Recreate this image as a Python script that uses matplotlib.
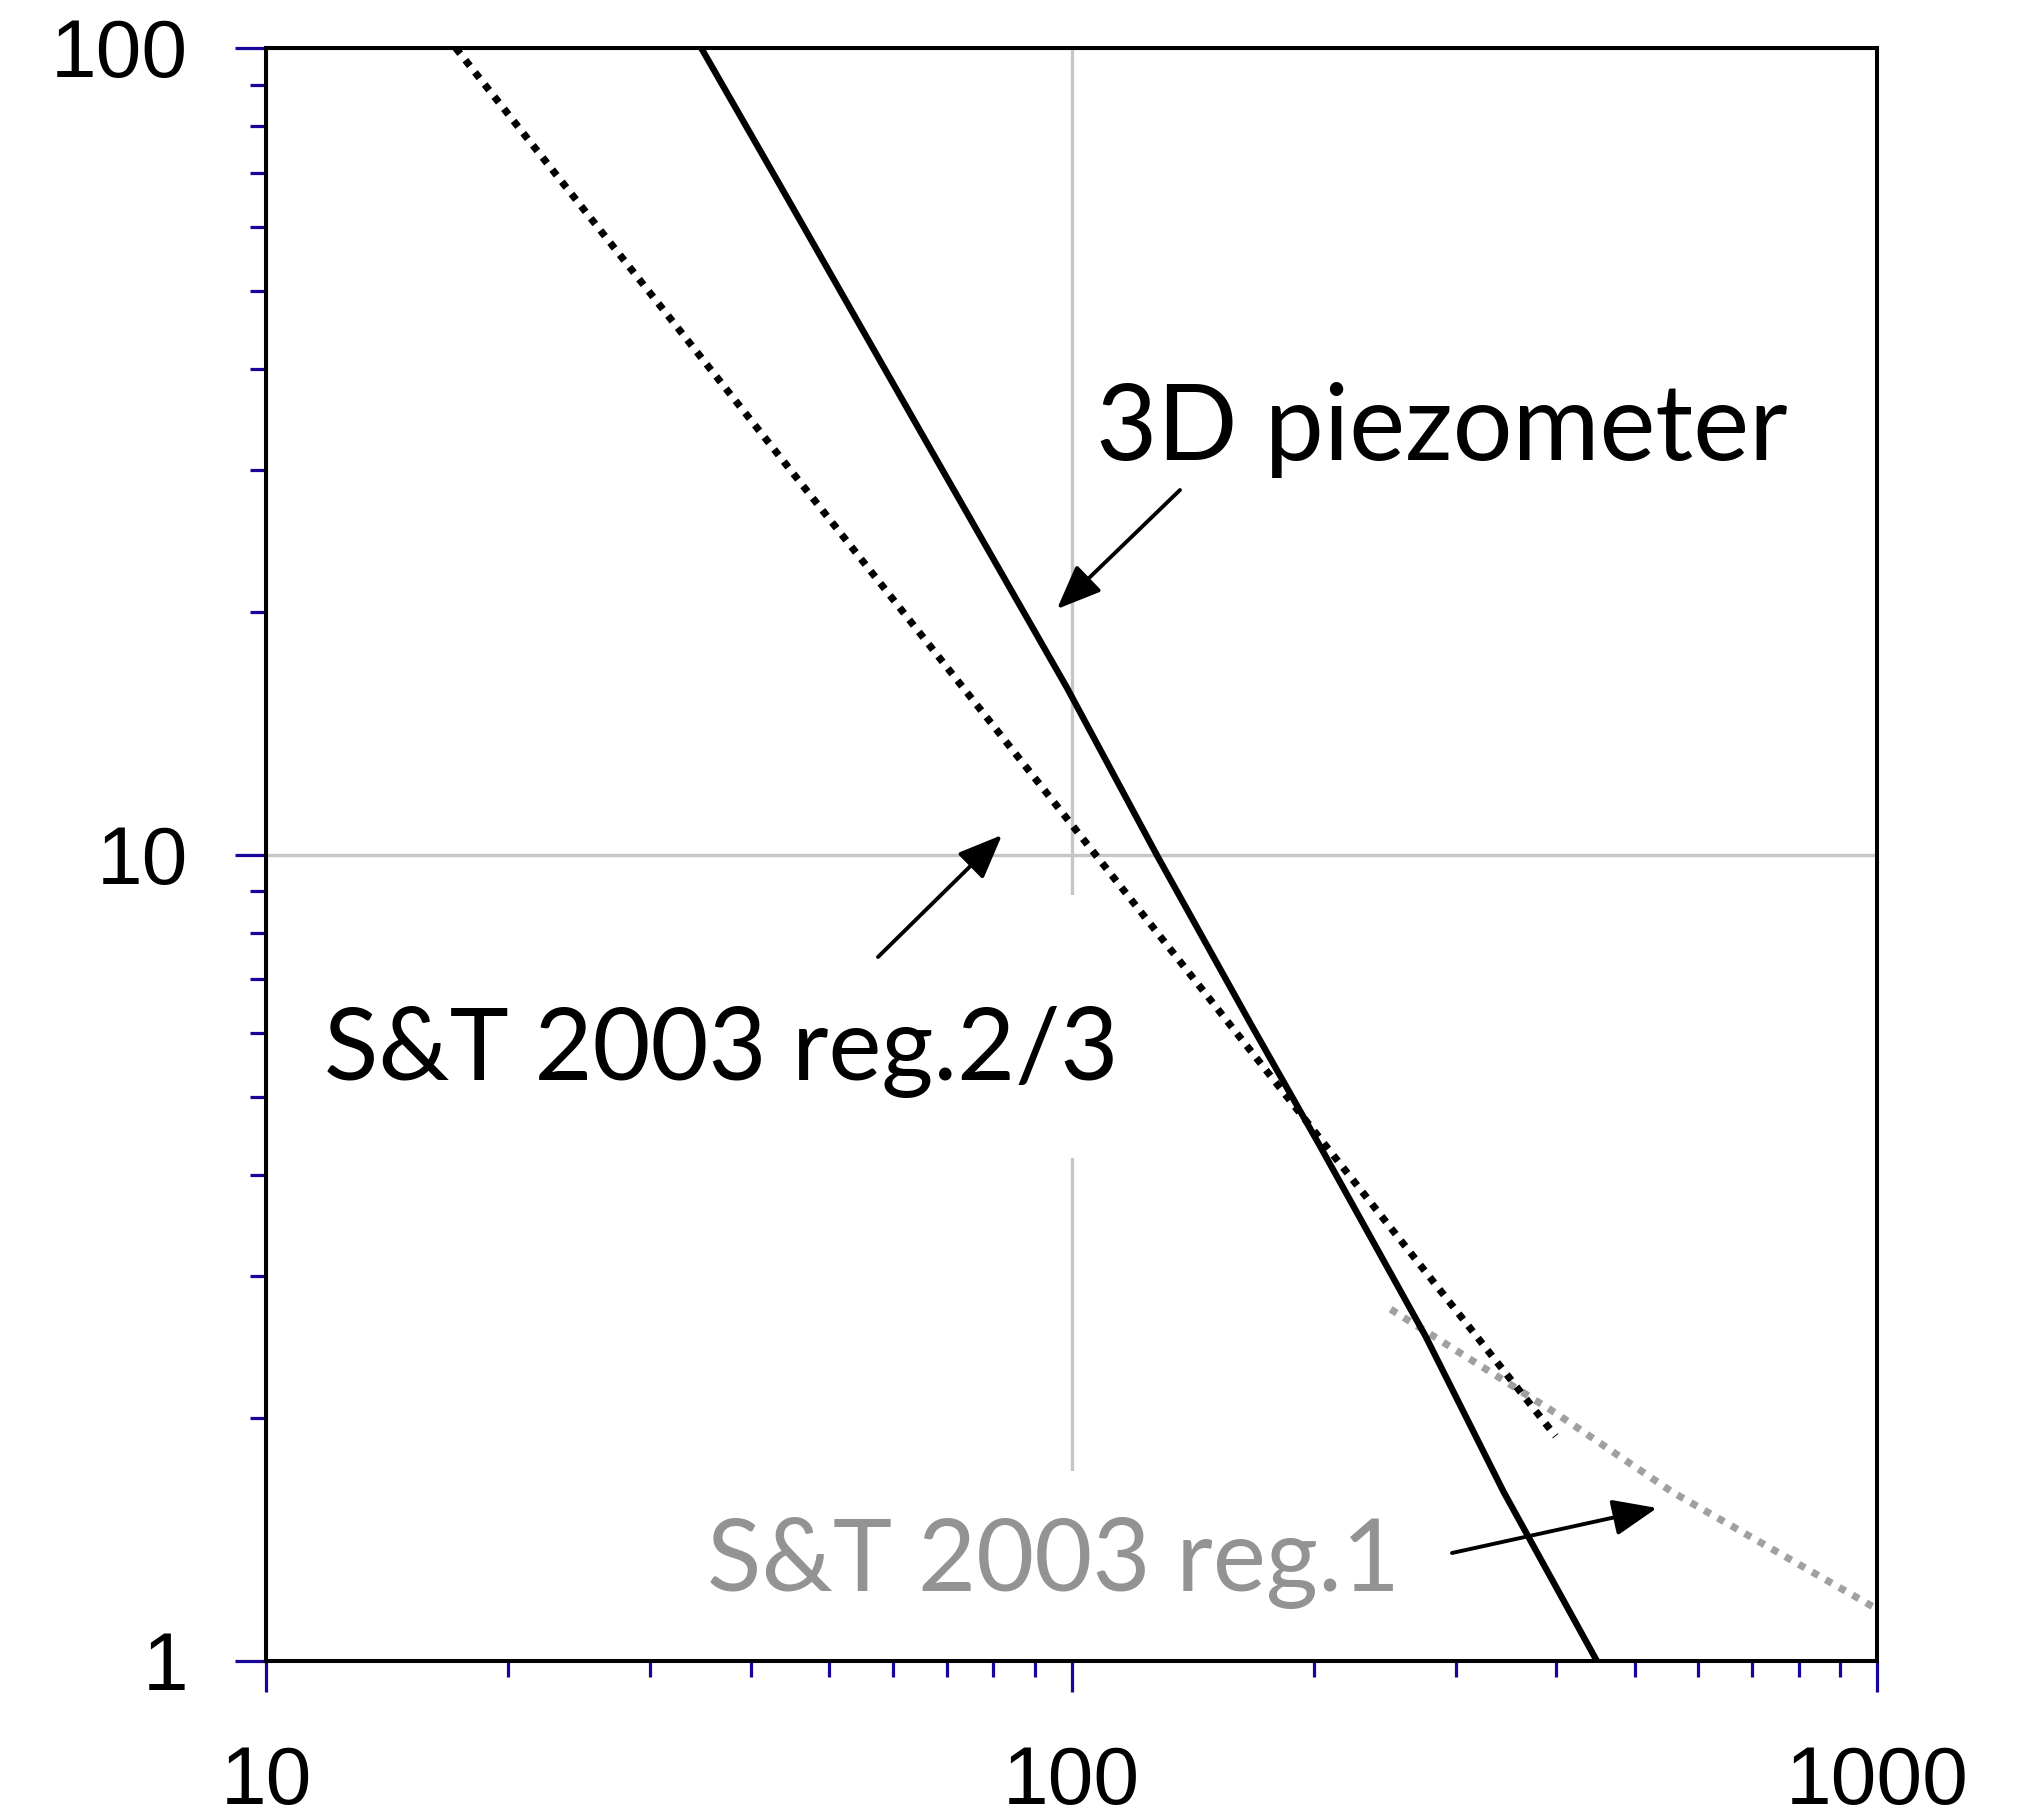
import matplotlib
matplotlib.use('Agg')
import matplotlib.pyplot as plt
from matplotlib.patches import Rectangle, FancyArrowPatch

# ---- data ----
piezo_x = [34.7, 43.2, 65.9, 98.7, 128, 167, 204, 275, 344, 449]
piezo_y = [100, 68.3, 32.6, 16.1, 9.93, 6.16, 4.33, 2.53, 1.62, 1.0]

reg23_x = [17.2, 100, 399]
reg23_y = [100, 10.9, 1.9]

reg1_x = [249, 399, 557, 1000]
reg1_y = [2.73, 2.03, 1.62, 1.16]

x_ticks = [10, 100, 1000]
x_tick_labels = ['10', '100', '1000']
y_ticks = [1, 10, 100]
y_tick_labels = ['1', '10', '100']

label_piezo = '3D piezometer'
label_reg23 = 'S&T 2003 reg.2/3'
label_reg1 = 'S&T 2003 reg.1'

# ---- figure ----
W, H = 2033, 1818
fig = plt.figure(figsize=(W / 100, H / 100), dpi=100)
L, R, T, B = 266, 1877, 48, 1661
ax = fig.add_axes([L / W, 1 - B / H, (R - L) / W, (B - T) / H])

def fx(px):
    return (px - L) / (R - L)

def fy(py):
    return (B - py) / (B - T)

ax.set_xscale('log')
ax.set_yscale('log')
ax.set_xlim(10, 1000)
ax.set_ylim(1, 100)

blue = '#16069c'
ax.set_xticks(x_ticks)
ax.set_xticklabels(x_tick_labels)
ax.set_yticks(y_ticks)
ax.set_yticklabels(y_tick_labels)
ax.tick_params(which='major', length=22, width=2.3, color=blue, direction='out',
               labelsize=59, top=False, right=False)
ax.tick_params(which='minor', length=11.5, width=2.3, color=blue, direction='out',
               top=False, right=False, labelbottom=False, labelleft=False)
ax.tick_params(axis='x', which='major', pad=38.5)
ax.tick_params(axis='y', which='major', pad=34)
for lab in ax.get_xticklabels() + ax.get_yticklabels():
    lab.set_fontfamily(['Liberation Sans', 'DejaVu Sans'])

for sp in ax.spines.values():
    sp.set_linewidth(2.9)
    sp.set_color('black')
    sp.set_zorder(6)

ax.grid(True, which='major', color='#c6c6c6', linewidth=2.4, zorder=0.5)
ax.grid(False, which='minor')
ax.set_axisbelow(True)

# white text-box fills that hide the grid
ax.add_patch(Rectangle((fx(314), fy(1158)), fx(1128) - fx(314), fy(895) - fy(1158),
                       transform=ax.transAxes, facecolor='white', edgecolor='none', zorder=1))
ax.add_patch(Rectangle((fx(700), fy(1661)), fx(1410) - fx(700), fy(1471) - fy(1661),
                       transform=ax.transAxes, facecolor='white', edgecolor='none', zorder=1))

# ---- curves ----
ax.plot(reg1_x, reg1_y, color='#a0a0a0', linewidth=5.2, linestyle=(0, (1, 1.15)),
        dash_capstyle='butt', zorder=3)
ax.plot(reg23_x, reg23_y, color='black', linewidth=5.2, linestyle=(0, (1, 1.15)),
        dash_capstyle='butt', zorder=4)
ax.plot(piezo_x, piezo_y, color='black', linewidth=4.6, zorder=5)

# ---- annotation text ----
font = ['Lato', 'DejaVu Sans']
t1 = ax.text(fx(1096), fy(460), label_piezo, transform=ax.transAxes, fontsize=75,
             family=font, color='black', ha='left', va='baseline', zorder=7)
t2 = ax.text(fx(324), fy(1080), label_reg23, transform=ax.transAxes, fontsize=75,
             family=font, color='black', ha='left', va='baseline', zorder=7)
t3 = ax.text(fx(707), fy(1591), label_reg1, transform=ax.transAxes, fontsize=75,
             family=font, color='#939393', ha='left', va='baseline', zorder=7)

fig.canvas.draw()
renderer = fig.canvas.get_renderer()
for t, target in ((t1, 691), (t2, 794), (t3, 693)):
    w = t.get_window_extent(renderer).width
    t.set_fontsize(t.get_fontsize() * target / w)

# ---- arrows ----
def arrow(tail, head):
    a = FancyArrowPatch((fx(tail[0]), fy(tail[1])), (fx(head[0]), fy(head[1])),
                        transform=ax.transAxes, arrowstyle='-|>,head_length=1.7,head_width=0.7',
                        mutation_scale=16, color='black', linewidth=2.8, zorder=7,
                        shrinkA=0, shrinkB=0)
    ax.add_patch(a)

arrow((1180, 490), (1057, 609))
arrow((878, 957), (1002, 835))
arrow((1452, 1553), (1657, 1508))

fig.savefig('out.png', dpi=100, facecolor='white')
